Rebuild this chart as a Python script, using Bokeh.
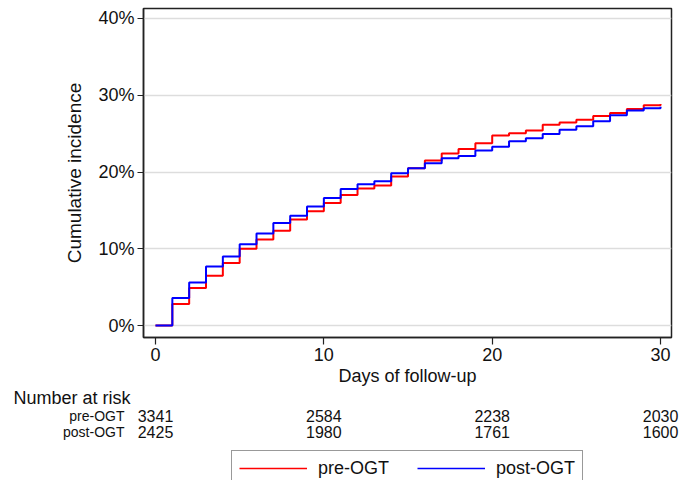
from bokeh.plotting import figure
from bokeh.models import Range1d, FixedTicker, PrintfTickFormatter, Legend, LegendItem
from bokeh.layouts import column
from bokeh.embed import file_html
from bokeh.resources import INLINE
from bokeh.core.properties import value

# ---------------- data ----------------
days = list(range(31))
pre_ogt = [0, 2.8, 4.9, 6.5, 8.15, 10.0, 11.2, 12.35, 13.8, 14.9,
           15.95, 17.0, 17.85, 18.25, 19.4, 20.5, 21.5, 22.4, 23.0, 23.75,
           24.75, 25.05, 25.4, 26.15, 26.45, 26.8, 27.3, 27.7, 28.2, 28.7, 28.85]
post_ogt = [0, 3.6, 5.6, 7.7, 9.0, 10.6, 12.0, 13.35, 14.3, 15.5,
            16.6, 17.8, 18.4, 18.8, 19.85, 20.5, 21.15, 21.8, 22.1, 22.8,
            23.3, 24.0, 24.4, 24.95, 25.5, 25.95, 26.6, 27.4, 28.0, 28.3, 28.5]
x_ticks = [0, 10, 20, 30]
y_ticks = [0, 10, 20, 30, 40]
risk_days = [0, 10, 20, 30]
pre_risk = [3341, 2584, 2238, 2030]
post_risk = [2425, 1980, 1761, 1600]
series_names = ["pre-OGT", "post-OGT"]
series_colors = ["red", "blue"]

FONT = "Liberation Sans"
TXT = "#111111"

# ---------------- layout constants ----------------
W = 686
LEFT, RIGHT, TOP = 143, 15, 8
FRAME_H = 330
BOTTOM = 50
H1 = TOP + FRAME_H + BOTTOM          # 388
H2 = 480 - H1                        # 92
X0, X1 = -0.713, 30.65
Y0, Y1 = -1.56, 41.30

xr = Range1d(X0, X1)
p = figure(width=W, height=H1, output_backend="svg",
           toolbar_location=None, x_range=xr, y_range=Range1d(Y0, Y1),
           min_border_left=LEFT, min_border_right=RIGHT,
           min_border_top=TOP, min_border_bottom=BOTTOM)
p.outline_line_color = "#222222"
p.outline_line_width = 1.5
p.background_fill_color = "white"
p.border_fill_color = "white"

p.step(days, pre_ogt, mode="after", line_color=series_colors[0], line_width=2)
p.step(days, post_ogt, mode="after", line_color=series_colors[1], line_width=2)

p.xgrid.grid_line_color = None
p.ygrid.grid_line_color = "#dddddd"
p.ygrid.grid_line_width = 1.5
p.ygrid.ticker = FixedTicker(ticks=y_ticks)

p.xaxis.ticker = FixedTicker(ticks=x_ticks)
p.yaxis.ticker = FixedTicker(ticks=y_ticks)
p.yaxis.formatter = PrintfTickFormatter(format="%d%%")
p.xaxis.axis_label = "Days of follow-up"
p.yaxis.axis_label = "Cumulative incidence"
for ax in (p.xaxis, p.yaxis):
    ax.axis_line_color = "#222222"
    ax.axis_line_width = 1.5
    ax.major_tick_line_color = "#222222"
    ax.major_tick_line_width = 1.2
    ax.major_tick_in = 0
    ax.minor_tick_line_color = None
    ax.major_label_text_font = FONT
    ax.major_label_text_font_size = "18px"
    ax.major_label_text_color = TXT
    ax.axis_label_text_font = FONT
    ax.axis_label_text_font_size = "18px"
    ax.axis_label_text_font_style = "normal"
    ax.axis_label_text_color = TXT
p.yaxis.axis_label_text_font_size = "19px"
p.xaxis.major_tick_out = 7
p.xaxis.major_label_standoff = 3
p.xaxis.axis_label_standoff = 2
p.yaxis.major_tick_out = 6
p.yaxis.major_label_standoff = 3
p.yaxis.axis_label_standoff = 10

# ---------------- number-at-risk table + legend (second panel) ----------------
# y of this panel is measured in pixels from its top edge
p2 = figure(width=W, height=H2, output_backend="svg", toolbar_location=None,
            x_range=xr, y_range=Range1d(H2, 0),
            x_axis_type=None, y_axis_type=None,
            min_border_left=LEFT, min_border_right=RIGHT,
            min_border_top=0, min_border_bottom=0)
p2.outline_line_color = None
p2.background_fill_color = "white"
p2.border_fill_color = "white"
p2.xgrid.visible = False
p2.ygrid.visible = False

t = p2.text(x=[0], y=[9.8], text=["Number at risk"], x_offset=-142,
            text_align="left", text_baseline="alphabetic",
            text_font=value(FONT), text_font_size="18px", text_color=TXT)
t.level = "overlay"
row_base = [27.0, 43.7]
for name, counts, yy in zip(series_names, [pre_risk, post_risk], row_base):
    t = p2.text(x=[0], y=[yy], text=[name], x_offset=-31,
                text_align="right", text_baseline="alphabetic",
                text_font=value(FONT), text_font_size="14px", text_color=TXT)
    t.level = "overlay"
    t = p2.text(x=risk_days, y=[yy] * len(risk_days), text=[str(c) for c in counts],
                text_align="center", text_baseline="alphabetic",
                text_font=value(FONT), text_font_size="16px", text_color=TXT)
    t.level = "overlay"

# hidden copies of the two curves, used only as legend samples
items = []
for name, col, vals in zip(series_names, series_colors, [pre_ogt, post_ogt]):
    r = p2.step(days, vals, mode="after", line_color=col, line_width=1.5)
    r.visible = False
    items.append(LegendItem(label=name, renderers=[r]))
legend = Legend(items=items, orientation="horizontal", location=(231 - LEFT, -6.7),
                padding=7, spacing=28, margin=0,
                glyph_width=68, glyph_height=20, label_standoff=11,
                label_text_font=FONT, label_text_font_size="18px",
                label_text_color=TXT,
                border_line_color="#333333", border_line_width=1,
                background_fill_color="white", background_fill_alpha=1)
p2.add_layout(legend)

layout = column(p, p2, spacing=0)
open("out.html", "w").write(file_html(layout, INLINE))
